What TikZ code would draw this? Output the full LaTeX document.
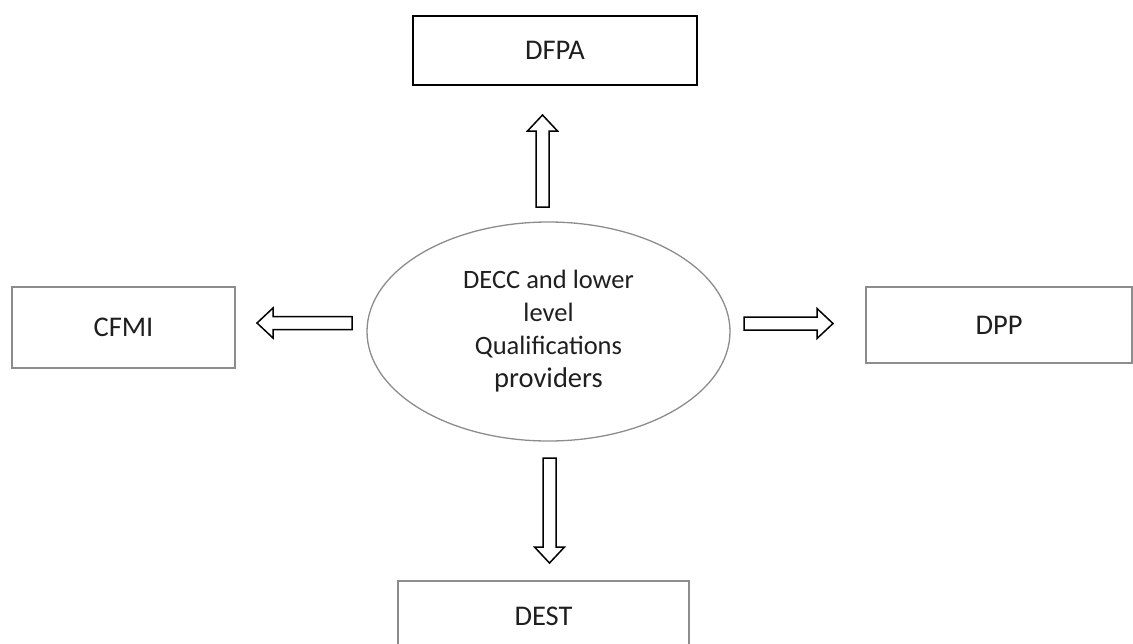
\documentclass[tikz,border=0pt]{standalone}
\usepackage{fontspec}
\setmainfont{Carlito}
\usetikzlibrary{calc, shapes.geometric}
\definecolor{boxgray}{HTML}{8C8C8C}
\definecolor{textgray}{HTML}{1F1F1F}
\tikzset{
  label box/.style={draw=boxgray, line width=1.5pt, inner sep=0pt, text=textgray,
    font=\fontsize{28.5}{34}\selectfont},
  block arrow/.style={draw=black, line width=1.5pt, fill=white, line join=miter,
    to path={
      ($(\tikztostart)!6.5pt!90:(\tikztotarget)$)
      -- ($($(\tikztotarget)!16pt!(\tikztostart)$)!6.5pt!90:(\tikztotarget)$)
      -- ($($(\tikztotarget)!16pt!(\tikztostart)$)!15pt!90:(\tikztotarget)$)
      -- (\tikztotarget)
      -- ($($(\tikztotarget)!16pt!(\tikztostart)$)!15pt!-90:(\tikztotarget)$)
      -- ($($(\tikztotarget)!16pt!(\tikztostart)$)!6.5pt!-90:(\tikztotarget)$)
      -- ($(\tikztostart)!6.5pt!-90:(\tikztotarget)$)
      -- cycle}}
}
\begin{document}
\begin{tikzpicture}[x=1pt, y=-1pt]
\clip (0,0) rectangle (1133,643);
\node[ellipse, draw=boxgray, line width=1.3pt, minimum width=363pt, minimum height=219pt, align=center, text=textgray, font=\fontsize{26.5}{33}\selectfont] (core) at (548.5,331.5) {DECC and lower\\level\\Qualifications\\{\fontsize{28.5}{33}\selectfont providers}};
\node[label box, draw=black, minimum width=284pt, minimum height=69pt] (dfpa) at (555,50.5) {DFPA};
\node[label box, minimum width=223pt, minimum height=81pt] (cfmi) at (123.5,327.5) {CFMI};
\node[label box, minimum width=266pt, minimum height=76pt] (dpp) at (999,325) {DPP};
\node[label box, minimum width=291pt, minimum height=70pt] (dest) at (543.5,616) {DEST};
% arrow ends
\coordinate (upFrom) at (542.5,207);
\coordinate (upTo) at (542.5,115);
\coordinate (leftFrom) at (352,323);
\coordinate (leftTo) at (257,323);
\coordinate (rightFrom) at (744,323.5);
\coordinate (rightTo) at (833,323.5);
\coordinate (downFrom) at (549.5,458);
\coordinate (downTo) at (549.5,563);
\draw[block arrow] (upFrom) to (upTo);
\draw[block arrow] (leftFrom) to (leftTo);
\draw[block arrow] (rightFrom) to (rightTo);
\draw[block arrow] (downFrom) to (downTo);
\end{tikzpicture}
\end{document}
